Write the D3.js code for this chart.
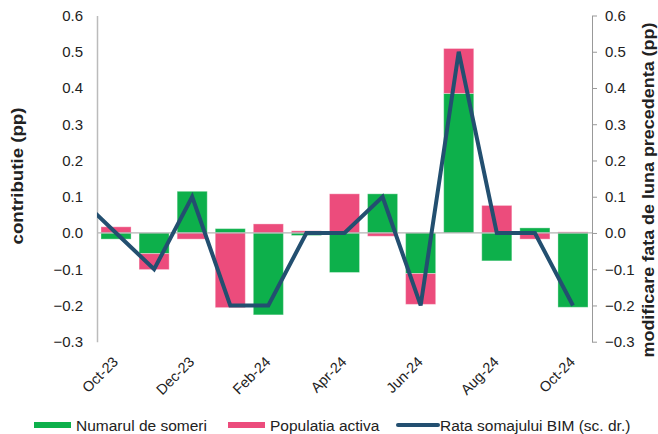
<!DOCTYPE html>
<html><head><meta charset="utf-8">
<script src="https://cdn.jsdelivr.net/npm/d3@7"></script>
<style>
body{margin:0;background:#fff;}
svg text{font-family:"Liberation Sans",Arial,sans-serif;fill:#222;}
</style></head>
<body><svg id="c" width="658" height="434"></svg>
<script>
const categories = ["Oct-23","Nov-23","Dec-23","Jan-24","Feb-24","Mar-24","Apr-24","May-24","Jun-24","Jul-24","Aug-24","Sep-24","Oct-24"];
const tickLabels = ["Oct-23","Dec-23","Feb-24","Apr-24","Jun-24","Aug-24","Oct-24"];
const numarulSomeri = [-0.017,-0.057,0.115,0.012,-0.226,-0.007,-0.109,0.108,-0.112,0.385,-0.077,0.014,-0.205];
const populatiaActiva = [0.017,-0.044,-0.017,-0.206,0.025,0.006,0.108,-0.009,-0.085,0.124,0.076,-0.017,0.003];
const rataSomaj = [0.0,-0.1,0.1,-0.2,-0.2,0.0,0.0,0.1,-0.2,0.5,0.0,0.0,-0.2];
const rataSomajPrev = 0.1; // Sep-23 value (outside visible range)
const yTicks = [-0.3,-0.2,-0.1,0.0,0.1,0.2,0.3,0.4,0.5,0.6];
const seriesNames = ["Numarul de someri","Populatia activa","Rata somajului BIM (sc. dr.)"];
const colors = ["#0db04b","#ec4c7c","#234f70"];

const svg = d3.select("#c");
const L = 97, R = 592, T = 15.5, B = 341.7;

const x = d3.scaleBand().domain(categories).range([L, R]).paddingInner(0.21).paddingOuter(0.105);
const y = d3.scaleLinear().domain([-0.3, 0.6]).range([B, T]);
const y2 = d3.scaleLinear().domain([-0.3, 0.6]).range([B, T]);

// stacked bars
const rows = categories.map((c,i)=>({cat:c, g:numarulSomeri[i], p:populatiaActiva[i]}));
const stack = d3.stack().keys(["g","p"]).offset(d3.stackOffsetDiverging)(rows);
svg.append("g").selectAll("g").data(stack).join("g")
  .attr("fill",(d,i)=>colors[i])
  .selectAll("rect").data(d=>d).join("rect")
  .attr("x",d=>x(d.data.cat))
  .attr("width",x.bandwidth())
  .attr("y",d=>y(Math.max(d[0],d[1])))
  .attr("height",d=>Math.abs(y(d[0])-y(d[1])))
  .attr("stroke","#fff").attr("stroke-opacity",0.35).attr("stroke-width",1);

// zero line
svg.append("line").attr("x1",L).attr("x2",R).attr("y1",y(0)).attr("y2",y(0))
  .attr("stroke","#b4b4b4").attr("stroke-width",1.3);

// left axis
const gl = svg.append("g").attr("transform",`translate(${L},0)`)
  .call(d3.axisLeft(y).tickValues(yTicks).tickSize(0).tickPadding(14).tickFormat(d3.format(".1f")));
gl.select(".domain").attr("stroke","#bbb").attr("stroke-width",1.5);
gl.selectAll("text").attr("font-size","15px").style("font-family","'Liberation Sans',Arial,sans-serif").attr("fill","#222");

// right axis
const gr = svg.append("g").attr("transform",`translate(${R},0)`)
  .call(d3.axisRight(y2).tickValues(yTicks).tickSizeInner(5).tickSizeOuter(0).tickPadding(8).tickFormat(d3.format(".1f")));
gr.select(".domain").attr("stroke","#999").attr("stroke-width",1);
gr.selectAll(".tick line").attr("stroke","#999");
gr.selectAll("text").attr("font-size","15px").style("font-family","'Liberation Sans',Arial,sans-serif").attr("fill","#222");

// x labels
const gx = svg.append("g").attr("transform",`translate(0,${B})`)
  .call(d3.axisBottom(x).tickValues(tickLabels).tickSize(0).tickPadding(0));
gx.select(".domain").remove();
gx.selectAll("text").attr("font-size","14.5px").style("font-family","'Liberation Sans',Arial,sans-serif").attr("fill","#222")
  .attr("text-anchor","end").attr("dy",null).attr("y",null)
  .attr("transform","translate(3,21) rotate(-45)");

// line
svg.append("clipPath").attr("id","clip").append("rect").attr("x",L).attr("y",0).attr("width",R-L).attr("height",434);
const step = x.step();
const linePts = [{xv:x(categories[0])+x.bandwidth()/2-step, v:rataSomajPrev}]
  .concat(categories.map((c,i)=>({xv:x(c)+x.bandwidth()/2, v:rataSomaj[i]})));
svg.append("path").datum(linePts).attr("clip-path","url(#clip)")
  .attr("fill","none").attr("stroke",colors[2]).attr("stroke-width",4).attr("stroke-linejoin","miter")
  .attr("d",d3.line().x(d=>d.xv).y(d=>y2(d.v)));

// axis titles
svg.append("text").attr("transform","translate(23,176) rotate(-90)").attr("text-anchor","middle")
  .attr("font-size","16px").attr("font-weight","bold").attr("textLength",137).attr("lengthAdjust","spacingAndGlyphs")
  .text("contributie (pp)");
svg.append("text").attr("transform","translate(654,190) rotate(-90)").attr("text-anchor","middle")
  .attr("font-size","16px").attr("font-weight","bold").attr("textLength",335).attr("lengthAdjust","spacingAndGlyphs")
  .text("modificare fata de luna precedenta (pp)");

// legend
const leg = [{x:34,t:"rect"},{x:228,t:"rect"},{x:398,t:"line"}];
leg.forEach((l,i)=>{
  if(l.t==="rect"){
    svg.append("rect").attr("x",l.x).attr("y",422).attr("width",37).attr("height",6).attr("fill",colors[i]);
  } else {
    svg.append("line").attr("x1",l.x).attr("x2",l.x+40).attr("y1",425).attr("y2",425)
      .attr("stroke",colors[i]).attr("stroke-width",4).attr("stroke-linecap","round");
  }
  svg.append("text").attr("x",l.x+(l.t==="rect"?42:42)).attr("y",430.5).attr("font-size","15.5px").text(seriesNames[i]);
});
</script></body></html>
